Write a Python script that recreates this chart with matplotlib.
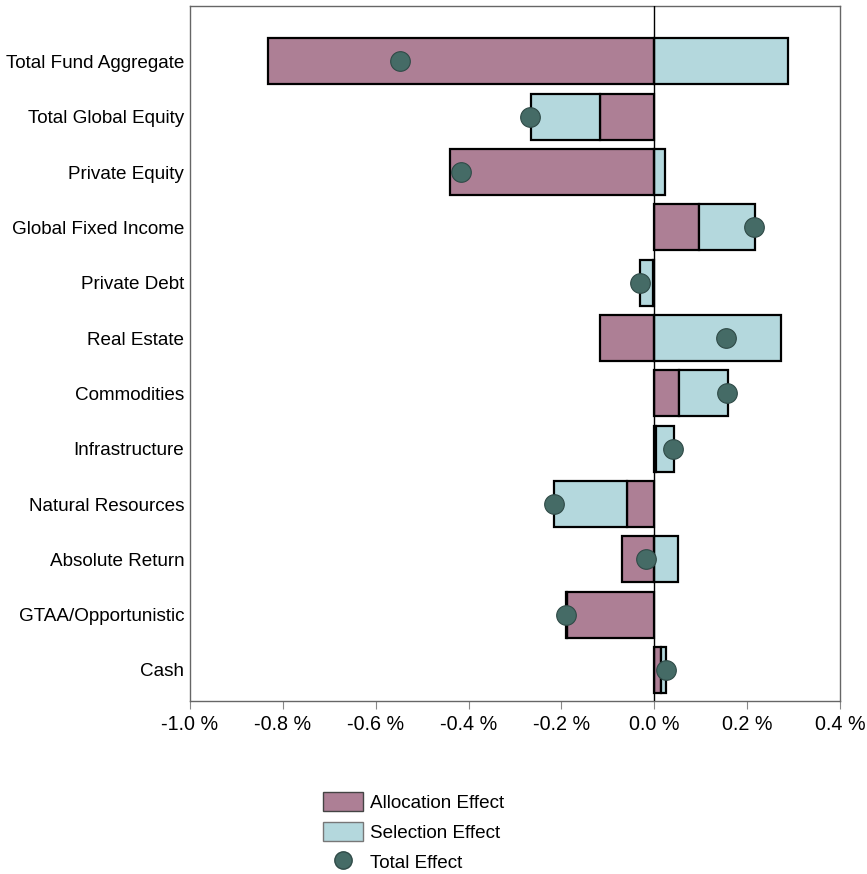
import numpy as np
import matplotlib.pyplot as plt
from matplotlib.patches import Patch
from matplotlib.lines import Line2D

plt.rcParams['font.family'] = ['Liberation Sans', 'DejaVu Sans']

categories = ['Total Fund Aggregate', 'Total Global Equity', 'Private Equity',
              'Global Fixed Income', 'Private Debt', 'Real Estate', 'Commodities',
              'Infrastructure', 'Natural Resources', 'Absolute Return',
              'GTAA/Opportunistic', 'Cash']
allocation = [-0.832, -0.118, -0.440, 0.097, -0.002, -0.118, 0.054, 0.003,
              -0.058, -0.069, -0.189, 0.015]
selection = [0.288, -0.148, 0.024, 0.120, -0.028, 0.273, 0.105, 0.039,
             -0.159, 0.050, -0.002, 0.011]
total = [-0.548, -0.267, -0.417, 0.215, -0.030, 0.155, 0.157, 0.041,
         -0.217, -0.019, -0.191, 0.026]
xticks = [-1.0, -0.8, -0.6, -0.4, -0.2, 0.0, 0.2, 0.4]

alloc_col = '#ad7f95'
sel_col = '#b4d8dd'
dot_col = '#456b66'

fig = plt.figure(figsize=(8.67, 8.74), dpi=100)
ax = fig.add_axes([0.219, 0.198, 0.750, 0.795])

y = np.arange(len(categories))
alloc = np.array(allocation)
sel = np.array(selection)
# selection stacks on top of allocation only when both have the same sign
sel_left = np.where(np.sign(sel) == np.sign(alloc), alloc, 0.0)

ax.barh(y, alloc, height=0.83, color=alloc_col, edgecolor='black', linewidth=1.6, zorder=2)
ax.barh(y, sel, left=sel_left, height=0.83, color=sel_col, edgecolor='black', linewidth=1.6, zorder=2)
ax.axvline(0, color='black', linewidth=1.0, zorder=3)
ax.scatter(total, y, s=200, color=dot_col, edgecolor='#2f4a47', linewidth=0.8, zorder=4)

ax.set_xlim(-1.0, 0.4)
ax.set_ylim(len(categories) - 0.44, -1.0)
ax.set_xticks(xticks)
ax.set_xticklabels(['%.1f %%' % v for v in xticks], fontsize=14.2)
ax.set_yticks(y)
ax.set_yticklabels(categories, fontsize=13.6)
ax.tick_params(axis='y', length=0, pad=4)
ax.tick_params(axis='x', length=6, color='#888888', pad=4)
for s in ax.spines.values():
    s.set_color('#666666')
    s.set_linewidth(1.0)

handles = [Patch(facecolor=alloc_col, edgecolor='#444444', label='Allocation Effect'),
           Patch(facecolor=sel_col, edgecolor='#777777', label='Selection Effect'),
           Line2D([], [], marker='o', linestyle='none', markersize=12.5,
                  markerfacecolor=dot_col, markeredgecolor='#2f4a47', label='Total Effect')]
fig.legend(handles=handles, loc='upper left', bbox_to_anchor=(0.3725, 0.094),
           frameon=False, fontsize=13.6, handlelength=2.1, handleheight=1.15,
           labelspacing=0.55, handletextpad=0.4, borderpad=0, borderaxespad=0)

fig.savefig('out.png', dpi=100)
